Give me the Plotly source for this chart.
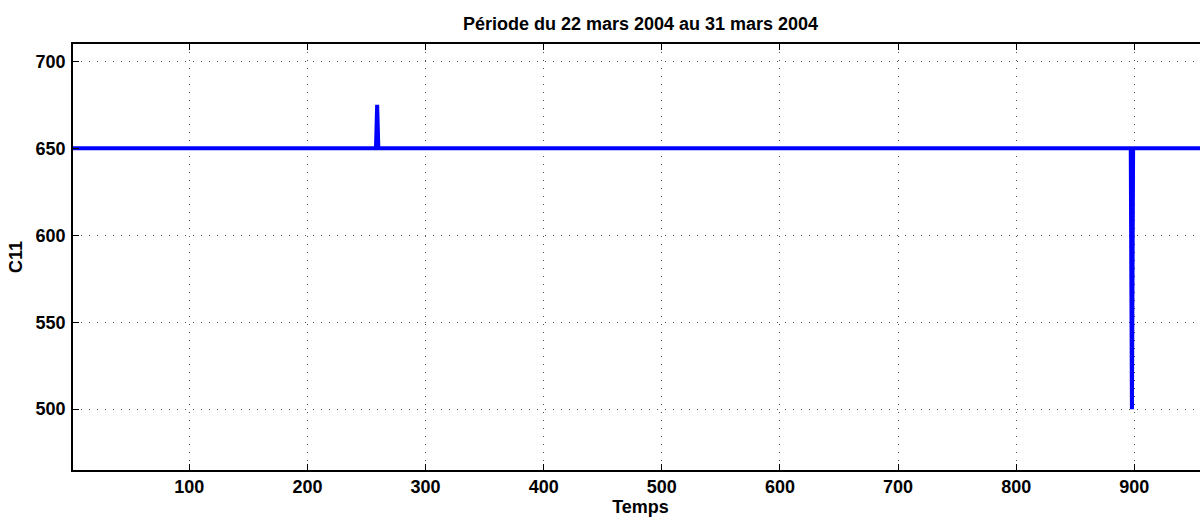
import plotly.graph_objects as go

# time points (breakpoints of the signal) and C11 values
temps = [1, 258, 259, 260, 897, 898, 899, 963]
c11 = [650, 650, 675, 650, 650, 500, 650, 650]

x_ticks = [100, 200, 300, 400, 500, 600, 700, 800, 900]
y_ticks = [500, 550, 600, 650, 700]

fnt = dict(family='Liberation Sans', size=18, color='black', weight='bold')

fig = go.Figure()
fig.add_trace(go.Scatter(x=temps, y=c11, mode='lines',
                         line=dict(color='#0000ff', width=4), showlegend=False))

axis_common = dict(
    showline=True, linecolor='black', linewidth=1.5, mirror='ticks',
    ticks='inside', ticklen=6, tickcolor='black',
    showgrid=True, gridcolor='rgba(60,60,60,0.9)', griddash='1px,7px', gridwidth=1,
    zeroline=False, automargin=False,
    tickfont=fnt,
)

# the original axes run slightly past the right edge of the picture
fig.update_layout(
    width=1208, height=521,
    margin=dict(l=73, r=0, t=44, b=51),
    paper_bgcolor='white', plot_bgcolor='white',
    title=dict(text='Période du 22 mars 2004 au 31 mars 2004', x=0.5, xanchor='center',
               xref='paper', yref='container', y=1 - 24 / 521, yanchor='middle',
               font=fnt),
    xaxis=dict(range=[1.5, 962.4], tickvals=x_ticks, **axis_common,
               title=dict(text='Temps', standoff=0, font=fnt)),
    yaxis=dict(range=[465, 710], tickvals=y_ticks, **axis_common,
               ticklabelstandoff=2,
               title=dict(text='C11', standoff=8, font=fnt)),
)

fig.write_html("out.html", config={'displayModeBar': False},
               post_script="document.body.style.margin='0';document.body.style.overflow='hidden';")
